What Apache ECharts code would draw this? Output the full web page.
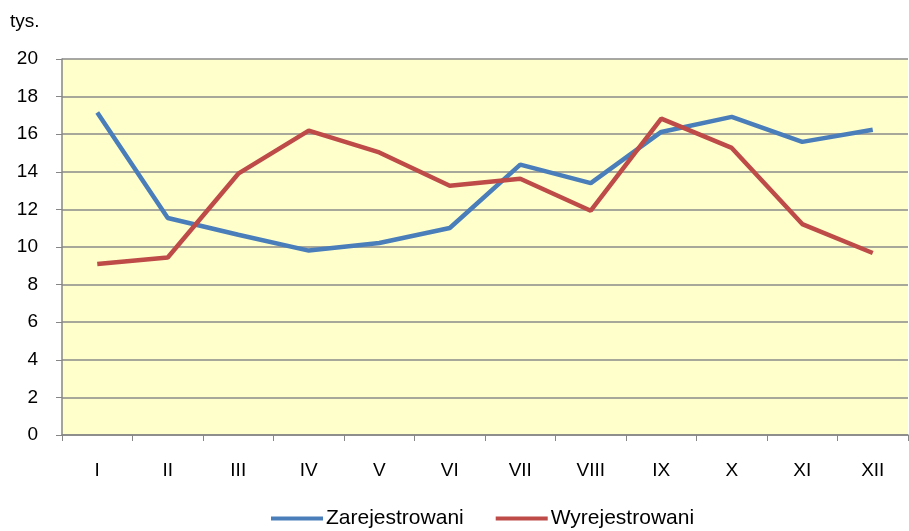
<!DOCTYPE html>
<html>
<head>
<meta charset="utf-8">
<script src="https://cdn.jsdelivr.net/npm/echarts@6/dist/echarts.min.js"></script>
<style>
  html, body { margin: 0; padding: 0; background: #fff; }
  #chart { width: 909px; height: 531px; }
</style>
</head>
<body>
<div id="chart"></div>
<script>
const months = ['I', 'II', 'III', 'IV', 'V', 'VI', 'VII', 'VIII', 'IX', 'X', 'XI', 'XII'];
const zarejestrowani = [17.16, 11.54, 10.65, 9.81, 10.21, 11.01, 14.38, 13.40, 16.12, 16.92, 15.59, 16.24];
const wyrejestrowani = [9.09, 9.44, 13.90, 16.19, 15.03, 13.26, 13.63, 11.93, 16.83, 15.27, 11.22, 9.68];

const font = 'Liberation Sans, Arial, sans-serif';
const chart = echarts.init(document.getElementById('chart'));

chart.setOption({
  animation: false,
  backgroundColor: '#fff',
  graphic: [{
    type: 'text', left: 10, top: 12,
    style: { text: 'tys.', font: '19px ' + font, fill: '#000' }
  }],
  legend: {
    bottom: -3,
    left: 266,
    itemWidth: 52,
    itemHeight: 4,
    itemGap: 32,
    icon: 'rect',
    textStyle: { fontFamily: font, fontSize: 21, color: '#000', padding: [0, 0, 0, -2] },
    data: ['Zarejestrowani', 'Wyrejestrowani']
  },
  grid: { left: 62, right: 1, top: 59, bottom: 96 },
  xAxis: {
    type: 'category',
    data: months,
    boundaryGap: true,
    axisLine: { lineStyle: { color: '#868686', width: 1.5 } },
    axisTick: { show: true, length: 6, lineStyle: { color: '#868686' } },
    axisLabel: { fontFamily: font, fontSize: 19, color: '#000', margin: 26 }
  },
  yAxis: {
    type: 'value',
    min: 0, max: 20, interval: 2,
    axisLine: { show: true, lineStyle: { color: '#868686', width: 1.5 } },
    axisTick: { show: true, length: 6, lineStyle: { color: '#868686' } },
    axisLabel: { fontFamily: font, fontSize: 19, color: '#000', margin: 24 },
    splitLine: { lineStyle: { color: '#8a8a8a', width: 1.5 } },
    splitArea: { show: true, areaStyle: { color: ['#FFFFCC', '#FFFFCC'] } }
  },
  series: [
    {
      name: 'Zarejestrowani', type: 'line', data: zarejestrowani,
      symbol: 'none', color: '#4A7EBB',
      lineStyle: { width: 4.5, color: '#4A7EBB' }
    },
    {
      name: 'Wyrejestrowani', type: 'line', data: wyrejestrowani,
      symbol: 'none', color: '#BE4B48',
      lineStyle: { width: 4.5, color: '#BE4B48' }
    }
  ]
});
</script>
</body>
</html>
